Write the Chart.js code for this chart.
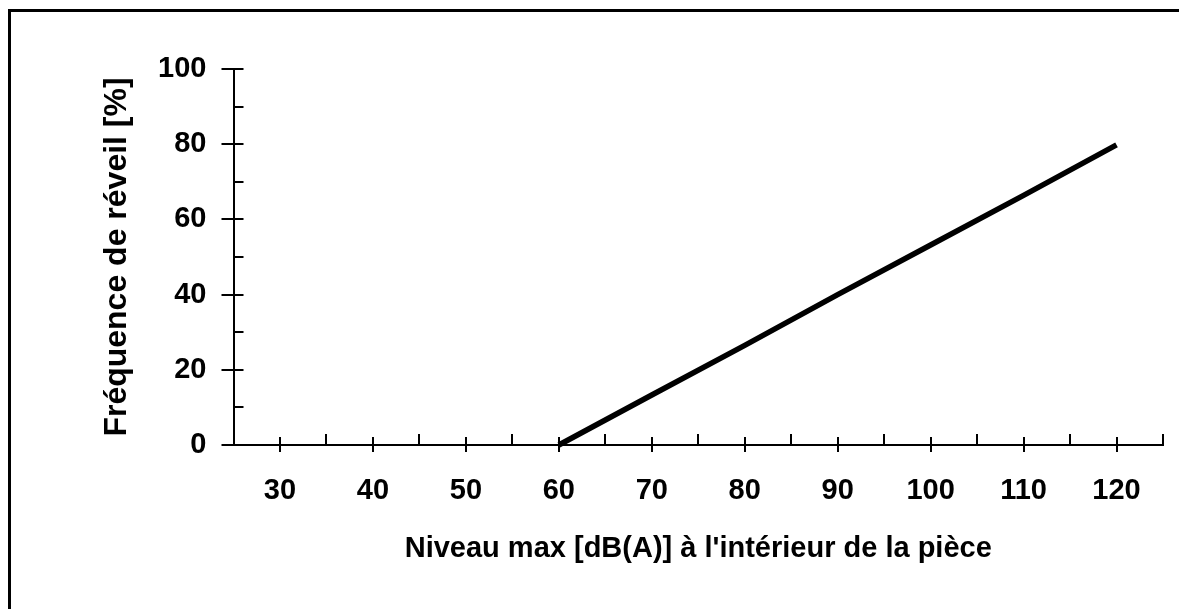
<!DOCTYPE html>
<html>
<head>
<meta charset="utf-8">
<script src="https://cdn.jsdelivr.net/npm/chart.js@4"></script>
<style>
  html, body { margin: 0; padding: 0; background: #fff; }
  #wrap { width: 1179px; height: 609px; }
</style>
</head>
<body>
<div id="wrap"><canvas id="myChart" width="1179" height="609"></canvas></div>
<script>
// niveau max [dB(A)] and fréquence de réveil [%]
const niveaux = [60, 70, 80, 90, 100, 110, 120];
const frequences = [0, 13.3, 26.5, 40, 53.2, 66.4, 79.8];

// axis ticks
const xTickLabels = [30, 40, 50, 60, 70, 80, 90, 100, 110, 120];
const xMinorTicks = [35, 45, 55, 65, 75, 85, 95, 105, 115, 125];
const yTickLabels = [0, 20, 40, 60, 80, 100];
const yMinorTicks = [10, 30, 50, 70, 90];

const font = 'Liberation Sans';

// frame around the picture + hand drawn tick marks (major ones cross the axis)
const tickMarks = {
    id: 'tickMarks',
    beforeDraw(chart) {
        const c = chart.ctx;
        c.save();
        c.fillStyle = '#000';
        c.fillRect(8, 9, 3, 600);
        c.fillRect(8, 9, 1171, 3);
        c.restore();
    },
    afterDraw(chart) {
        const c = chart.ctx;
        const xs = chart.scales.x, ys = chart.scales.y;
        const ax = chart.chartArea.left, ay = chart.chartArea.bottom;
        c.save();
        c.strokeStyle = '#000';
        c.lineWidth = 2;
        c.beginPath();
        xTickLabels.forEach(v => {
            const px = Math.round(xs.getPixelForValue(v));
            c.moveTo(px, ay - 8); c.lineTo(px, ay + 7);
        });
        xMinorTicks.forEach(v => {
            const px = Math.round(xs.getPixelForValue(v));
            c.moveTo(px, ay - 11); c.lineTo(px, ay);
        });
        yTickLabels.forEach(v => {
            const py = Math.round(ys.getPixelForValue(v));
            c.moveTo(ax - 12, py); c.lineTo(ax + 10, py);
        });
        yMinorTicks.forEach(v => {
            const py = Math.round(ys.getPixelForValue(v));
            c.moveTo(ax, py); c.lineTo(ax + 10, py);
        });
        c.stroke();
        c.restore();
    }
};

const ctx = document.getElementById('myChart').getContext('2d');

const myChart = new Chart(ctx, {
    type: 'line',
    data: {
        datasets: [{
            data: niveaux.map((n, i) => ({ x: n, y: frequences[i] })),
            borderColor: '#000',
            borderWidth: 5.5,
            borderCapStyle: 'butt',
            pointRadius: 0,
            tension: 0,
            fill: false,
            clip: false
        }]
    },
    options: {
        responsive: false,
        animation: false,
        events: [],
        layout: { padding: { top: 69, right: 16, bottom: 0, left: 0 } },
        plugins: { legend: { display: false }, tooltip: { enabled: false } },
        scales: {
            x: {
                type: 'linear',
                min: 25,
                max: 125,
                afterBuildTicks: s => { s.ticks = xTickLabels.map(v => ({ value: v })); },
                afterFit: s => { s.height = 164; },
                grid: { display: false, drawTicks: false },
                border: { display: true, color: '#000', width: 2 },
                ticks: {
                    padding: 29,
                    maxRotation: 0,
                    autoSkip: false,
                    color: '#000',
                    font: { family: font, size: 29, weight: 'bold' }
                },
                title: {
                    display: true,
                    text: "Niveau max [dB(A)] à l'intérieur de la pièce",
                    color: '#000',
                    padding: { top: 0, bottom: 43 },
                    font: { family: font, size: 29, weight: 'bold' }
                }
            },
            y: {
                min: 0,
                max: 100,
                afterBuildTicks: s => { s.ticks = yTickLabels.map(v => ({ value: v })); },
                afterFit: s => { s.width = 233.5; },
                grid: { display: false, drawTicks: false },
                border: { display: true, color: '#000', width: 2 },
                ticks: {
                    padding: 27,
                    autoSkip: false,
                    color: '#000',
                    font: { family: font, size: 29, weight: 'bold' }
                },
                title: {
                    display: true,
                    text: 'Fréquence de réveil [%]',
                    color: '#000',
                    padding: { top: 98, bottom: 0 },
                    font: { family: font, size: 32, weight: 'bold' }
                }
            }
        }
    },
    plugins: [tickMarks]
});
</script>
</body>
</html>
